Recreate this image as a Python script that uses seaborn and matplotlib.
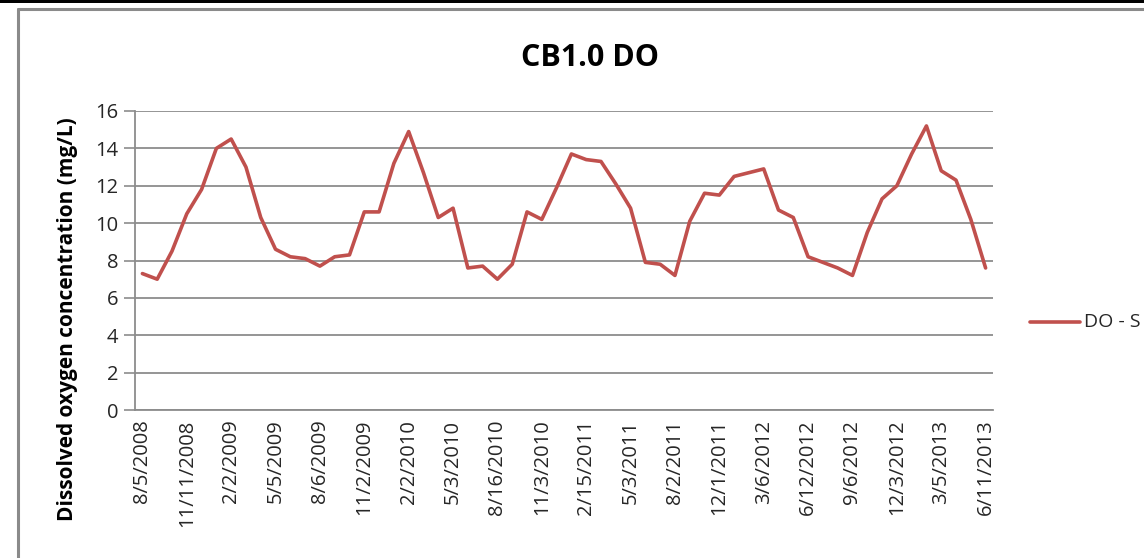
import matplotlib
matplotlib.use("Agg")
import matplotlib.pyplot as plt
import numpy as np
import pandas as pd
import seaborn as sns
from matplotlib.lines import Line2D
from matplotlib.patches import Rectangle

# -- data --------------------------------------------------------------------
do_surface = [
    7.3, 7.0, 8.5, 10.5, 11.8, 14.0, 14.5, 13.0, 10.3, 8.6,
    8.2, 8.1, 7.7, 8.2, 8.3, 10.6, 10.6, 13.2, 14.9, 12.7,
    10.3, 10.8, 7.6, 7.7, 7.0, 7.8, 10.6, 10.2, 11.9, 13.7,
    13.4, 13.3, 12.1, 10.8, 7.9, 7.8, 7.2, 10.1, 11.6, 11.5,
    12.5, 12.7, 12.9, 10.7, 10.3, 8.2, 7.9, 7.6, 7.2, 9.5,
    11.3, 12.0, 13.7, 15.2, 12.8, 12.3, 10.2, 7.6,
]
date_labels = [
    "8/5/2008", "11/11/2008", "2/2/2009", "5/5/2009", "8/6/2009",
    "11/2/2009", "2/2/2010", "5/3/2010", "8/16/2010", "11/3/2010",
    "2/15/2011", "5/3/2011", "8/2/2011", "12/1/2011", "3/6/2012",
    "6/12/2012", "9/6/2012", "12/3/2012", "3/5/2013", "6/11/2013",
]
label_step = 3
series_name = "DO - S"   # legend text as it shows, cut short by the frame

RED = "#C0504D"
GRID = "#8C8C8C"
TXT = "#262626"

sns.set_theme(style="white")
plt.rcParams["font.family"] = ["Open Sans", "DejaVu Sans"]

df = pd.DataFrame({"sample": np.arange(len(do_surface)), "do": do_surface})

fig = plt.figure(figsize=(11.44, 5.58), dpi=100)
W, H = 1144, 558

# frame like the original screenshot
fig.add_artist(Rectangle((0, 1 - 2.5 / H), 1, 2.5 / H, transform=fig.transFigure,
                         color="black", lw=0))
fig.add_artist(Line2D([18 / W, 18 / W], [0, 1 - 9 / H], transform=fig.transFigure,
                      color="#8A8A8A", lw=2.2))
fig.add_artist(Line2D([18 / W, 1], [1 - 9 / H, 1 - 9 / H], transform=fig.transFigure,
                      color="#8A8A8A", lw=2.2))

ax = fig.add_axes([135 / W, 1 - 410 / H, (993 - 135) / W, (410 - 111) / H])
sns.lineplot(data=df, x="sample", y="do", ax=ax, color=RED, lw=2.6, legend=False)

n = len(do_surface)
ax.set_xlim(-0.5, n - 0.5)
ax.set_ylim(0, 16)
ax.set_yticks(range(0, 17, 2))
ax.yaxis.grid(True, color=GRID, lw=1.3)
ax.set_axisbelow(True)

label_pos = np.arange(0, n, label_step)
ax.set_xticks(label_pos)
ax.set_xticklabels(date_labels, rotation=90, fontsize=14.5, color=TXT)
ax.set_xticks(np.arange(-0.5, n, 1), minor=True)
ax.tick_params(axis="x", which="major", length=0, pad=7)
ax.tick_params(axis="x", which="minor", length=6, width=1.2, color=GRID, direction="out")
ax.tick_params(axis="y", length=8, width=1.2, color=GRID, direction="out",
               labelsize=14.5, labelcolor=TXT, pad=4, left=True)

for side in ("top", "right"):
    ax.spines[side].set_visible(False)
for side in ("left", "bottom"):
    ax.spines[side].set_color(GRID)
    ax.spines[side].set_linewidth(1.3)

ax.set_xlabel("")
ax.set_ylabel("Dissolved oxygen concentration (mg/L)", fontsize=15,
              fontweight="bold", color="black", va="center")
# the label sits lower than the axes centre in the reference
ax.yaxis.set_label_coords((68 - 135) / 858, (410 - 319) / 299)

fig.text(590 / W, 1 - 58 / H, "CB1.0 DO", ha="center", va="center",
         fontsize=22, fontweight="bold", color="black")

# legend entry
fig.add_artist(Line2D([1030 / W, 1080 / W], [1 - 322 / H, 1 - 322 / H],
                      transform=fig.transFigure, color=RED, lw=2.6))
fig.text(1084 / W, 1 - 322 / H, series_name, ha="left", va="center",
         fontsize=14, color=TXT)

fig.savefig("out.png", dpi=100)
